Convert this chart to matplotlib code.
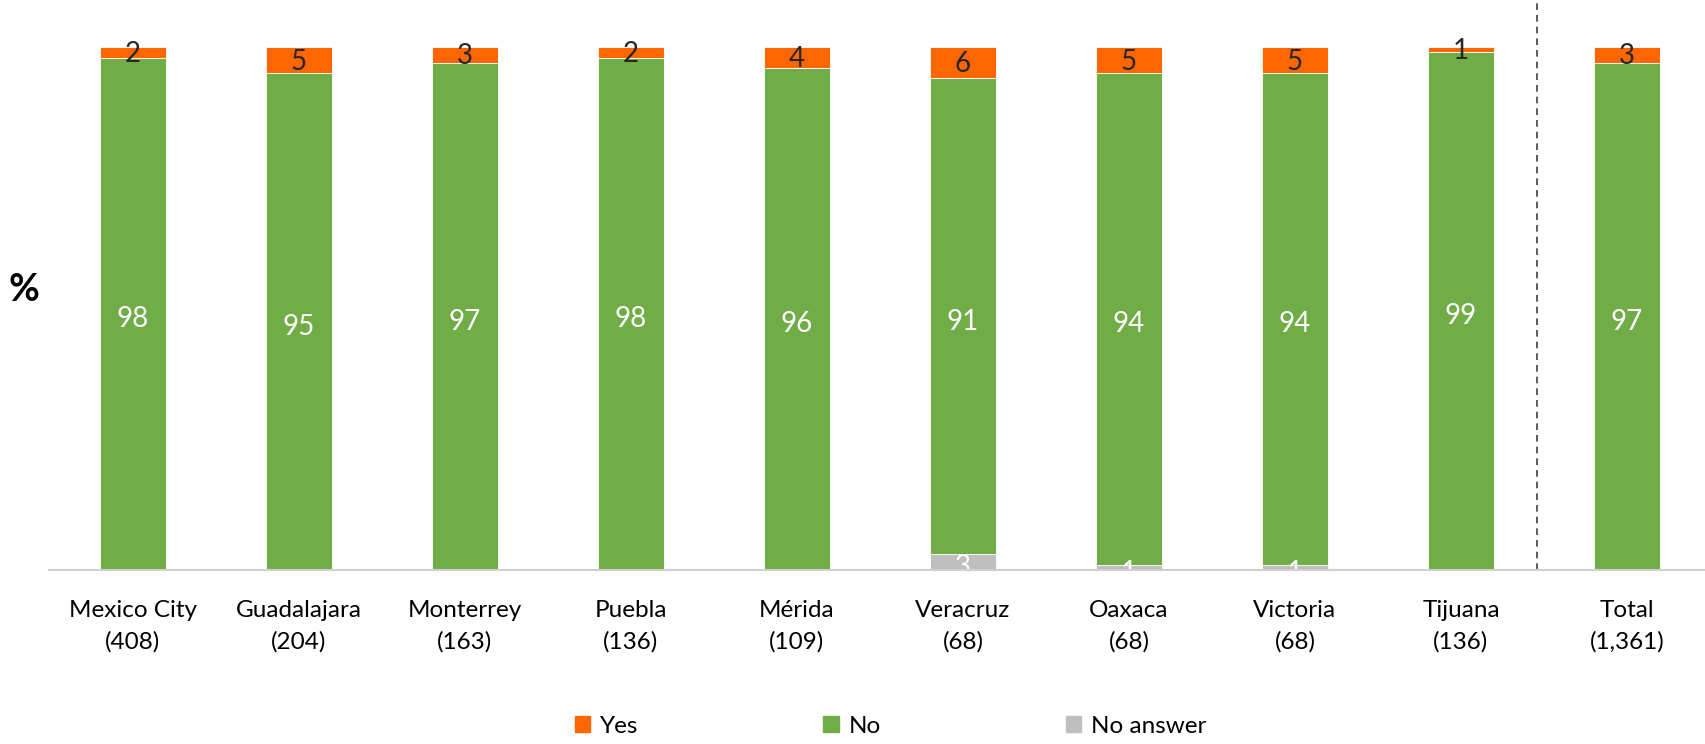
import numpy as np
import matplotlib
matplotlib.use("Agg")
import matplotlib.pyplot as plt
from matplotlib.patches import Patch

plt.rcParams["font.family"] = ["Lato", "DejaVu Sans"]

# data
cities = ["Mexico City", "Guadalajara", "Monterrey", "Puebla", "Mérida",
          "Veracruz", "Oaxaca", "Victoria", "Tijuana", "Total"]
n_sizes = ["408", "204", "163", "136", "109", "68", "68", "68", "136", "1,361"]
yes = [2, 5, 3, 2, 4, 6, 5, 5, 1, 3]
no = [98, 95, 97, 98, 96, 91, 94, 94, 99, 97]
no_answer = [0, 0, 0, 0, 0, 3, 1, 1, 0, 0]

c_yes = "#FF6600"
c_no = "#70AD47"
c_na = "#BFBFBF"

fig = plt.figure(figsize=(17.06, 7.44), dpi=100)
ax = fig.add_axes([0.0287, 0.234, 0.9713, 0.766])

x = np.arange(len(cities))
w = 0.4
na = np.array(no_answer)
nn = np.array(no)
yy = np.array(yes)

ax.bar(x, na, w, color=c_na, edgecolor="white", linewidth=0.6)
ax.bar(x, nn, w, bottom=na, color=c_no, edgecolor="white", linewidth=0.6)
ax.bar(x, yy, w, bottom=na + nn, color=c_yes, edgecolor="white", linewidth=0.6)

for i in x:
    if na[i] > 0:
        ax.text(i, na[i] / 2 - 1.0, str(na[i]), ha="center", va="center",
                color="white", fontsize=20, zorder=1)
    ax.text(i, na[i] + nn[i] / 2 - 1.0, str(nn[i]), ha="center", va="center",
            color="white", fontsize=20)
    ax.text(i, na[i] + nn[i] + yy[i] / 2 - 0.3, str(yy[i]), ha="center", va="center",
            color="#262626", fontsize=20)

ax.set_xlim(-0.506, 9.476)
ax.set_ylim(0, 109)
ax.set_xticks(x)
ax.set_xticklabels([f"{c}\n({n})" for c, n in zip(cities, n_sizes)],
                   fontsize=17.5, linespacing=1.55)
ax.tick_params(axis="x", length=0, pad=22)
ax.set_yticks([])
for s in ["top", "right", "left"]:
    ax.spines[s].set_visible(False)
ax.spines["bottom"].set_color("#D0D0D0")
ax.spines["bottom"].set_linewidth(1.5)
ax.spines["bottom"].set_zorder(5)

ax.axvline(8.46, ymin=0, ymax=1, color="#404040", linestyle=(0, (4, 3)), linewidth=1.2)

fig.text(0.005, 0.61, "%", fontsize=27, fontweight="bold", ha="left", va="center")

handles = [Patch(color=c_yes, label="Yes"), Patch(color=c_no, label="No"),
           Patch(color=c_na, label="No answer")]
fig.legend(handles=handles, loc="center", bbox_to_anchor=(0.522, 0.024), ncol=3,
           frameon=False, fontsize=17.5, handlelength=0.65, handleheight=0.65,
           handletextpad=0.4, columnspacing=7.6)

fig.savefig("out.png", dpi=100)
